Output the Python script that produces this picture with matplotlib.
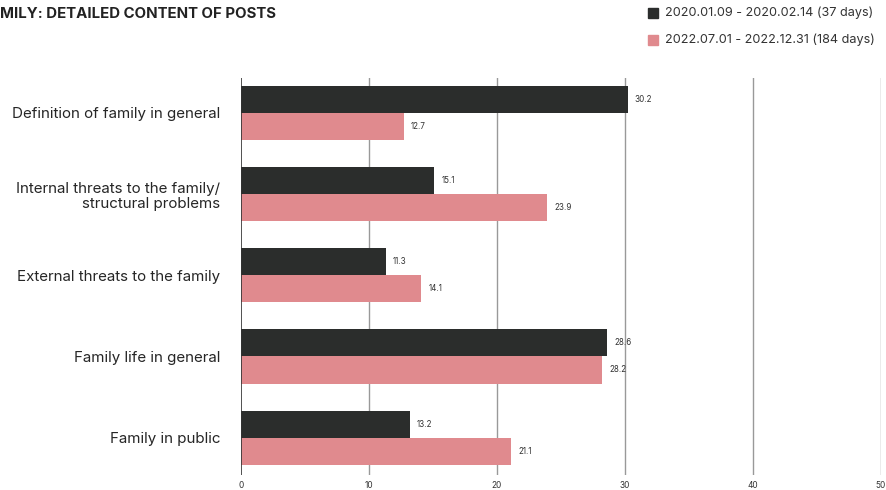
import numpy as np
import matplotlib.pyplot as plt
from matplotlib.patches import Rectangle

categories = ["Definition of family in general",
              "Internal threats to the family/\nstructural problems",
              "External threats to the family",
              "Family life in general",
              "Family in public"]
period_2020 = [30.2, 15.1, 11.3, 28.6, 13.2]
period_2022 = [12.7, 23.9, 14.1, 28.2, 21.1]
series_names = ["2020.01.09 - 2020.02.14 (37 days)",
                "2022.07.01 - 2022.12.31 (184 days)"]
xticks = [0, 10, 20, 30, 40, 50]

DARK = "#2b2d2c"
PINK = "#e08a8e"
FONT = "Inter"

fig = plt.figure(figsize=(8.86, 4.9), dpi=100)
ax = fig.add_axes([241 / 886, 1 - 475 / 490, 640 / 886, 397 / 490])

y = np.arange(len(categories))
h = 0.333
b1 = ax.barh(y - h / 2, period_2020, height=h, color=DARK, zorder=3)
b2 = ax.barh(y + h / 2, period_2022, height=h, color=PINK, zorder=3)

for bars in (b1, b2):
    for bar in bars:
        w = bar.get_width()
        ax.text(w + 0.55, bar.get_y() + bar.get_height() / 2, f"{w:.1f}",
                va="center", ha="left", fontsize=5.8, color="#333333",
                family=FONT, zorder=4)

ax.set_xlim(0, 50)
ax.set_ylim(4.46, -0.43)
for x in xticks[1:]:
    ax.axvline(x, color="#999999", lw=1.0, zorder=1)
ax.axvline(0, color="#333333", lw=1.2, zorder=4)

ax.set_xticks(xticks)
ax.set_xticklabels([str(t) for t in xticks], fontsize=6, family=FONT, color="#333333")
ax.tick_params(axis="x", length=0, pad=4.5)
ax.set_yticks(y)
ax.set_yticklabels(categories, fontsize=10.9, family=FONT, color="#262626",
                   ha="right", linespacing=1.12)
ax.tick_params(axis="y", length=0, pad=15)
for s in ax.spines.values():
    s.set_visible(False)

fig.text(0.0, 1 - 14 / 490, "MILY: DETAILED CONTENT OF POSTS", fontsize=10.8,
         fontweight="bold", family=FONT, color="#222222", va="center", ha="left")

for i, (name, col) in enumerate(zip(series_names, [DARK, PINK])):
    yc = 13 + i * 27
    fig.patches.append(Rectangle((648 / 886, 1 - (yc + 5) / 490), 10 / 886, 10 / 490,
                                 transform=fig.transFigure, color=col))
    fig.text(665 / 886, 1 - yc / 490, name, fontsize=9.1, family=FONT,
             color="#333333", va="center", ha="left")

fig.savefig("out.png", dpi=100)
